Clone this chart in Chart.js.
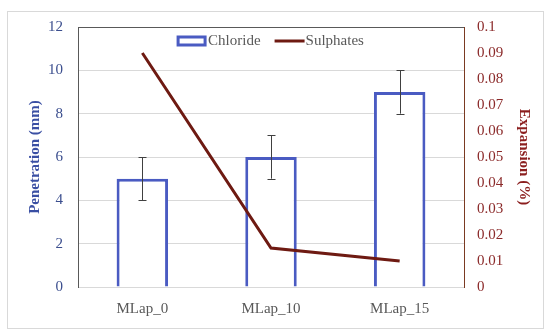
<!DOCTYPE html>
<html>
<head>
<meta charset="utf-8">
<script src="https://cdn.jsdelivr.net/npm/chart.js@4"></script>
<style>
  html, body { margin: 0; padding: 0; background: #fff; }
  body { width: 550px; height: 336px; position: relative; overflow: hidden; }
  #box { position: absolute; left: 7px; top: 11px; width: 535px; height: 316px; border: 1px solid #D9D9D9; }
  canvas { display: block; }
</style>
</head>
<body>
<div id="box"><canvas id="c" width="535" height="316"></canvas></div>
<script>
const categories = ['MLap_0', 'MLap_10', 'MLap_15'];
const chloride = [5, 6, 9];
const chlorideErr = [1, 1, 1];
const sulphates = [0.09, 0.015, 0.01];
const leftTicks = [0, 2, 4, 6, 8, 10, 12];
const rightTicks = [0, 0.01, 0.02, 0.03, 0.04, 0.05, 0.06, 0.07, 0.08, 0.09, 0.1];

const FONT = 'Liberation Serif';
const BLUE = '#4A5BC2';
const LINE = '#6E1A12';

const errorBars = {
  id: 'errorBars',
  afterDatasetsDraw(chart) {
    const meta = chart.getDatasetMeta(0);
    const ys = chart.scales.y;
    const ctx = chart.ctx;
    ctx.save();
    ctx.strokeStyle = '#404040';
    ctx.lineWidth = 1;
    meta.data.forEach((el, i) => {
      const x = Math.round(el.x) + 0.5;
      const lo = ys.getPixelForValue(chloride[i] - chlorideErr[i]);
      const hi = ys.getPixelForValue(chloride[i] + chlorideErr[i]);
      ctx.beginPath();
      ctx.moveTo(x, lo); ctx.lineTo(x, hi);
      ctx.moveTo(x - 4, Math.round(lo) + 0.5); ctx.lineTo(x + 4, Math.round(lo) + 0.5);
      ctx.moveTo(x - 4, Math.round(hi) + 0.5); ctx.lineTo(x + 4, Math.round(hi) + 0.5);
      ctx.stroke();
    });
    ctx.restore();
  }
};

const innerLegend = {
  id: 'innerLegend',
  afterDraw(chart) {
    const ctx = chart.ctx;
    const area = chart.chartArea;
    const ds = chart.data.datasets;
    ctx.save();
    ctx.font = '15px "' + FONT + '"';
    ctx.textBaseline = 'middle';
    const w0 = ctx.measureText(ds[0].label).width;
    const w1 = ctx.measureText(ds[1].label).width;
    const total = 27 + 3 + w0 + 14 + 30 + 1 + w1;
    let x = (area.left + area.right) / 2 - total / 2;
    const y = area.top + 14;
    ctx.fillStyle = '#FFFFFF';
    ctx.strokeStyle = ds[0].borderColor;
    ctx.lineWidth = 3;
    ctx.fillRect(x, y - 4, 27, 8);
    ctx.strokeRect(x, y - 4, 27, 8);
    x += 27 + 3;
    ctx.fillStyle = '#595959';
    ctx.fillText(ds[0].label, x, y);
    x += w0 + 14;
    ctx.strokeStyle = ds[1].borderColor;
    ctx.lineWidth = 3;
    ctx.beginPath();
    ctx.moveTo(x, y); ctx.lineTo(x + 30, y);
    ctx.stroke();
    x += 30 + 1;
    ctx.fillStyle = '#595959';
    ctx.fillText(ds[1].label, x, y);
    ctx.restore();
  }
};

function noVPad(s) { s.paddingTop = 0; s.paddingBottom = 0; }

new Chart(document.getElementById('c'), {
  data: {
    labels: categories,
    datasets: [
      {
        type: 'bar', label: 'Chloride', data: chloride, yAxisID: 'y',
        backgroundColor: '#FFFFFF', borderColor: BLUE, borderWidth: 3,
        barPercentage: 0.4, categoryPercentage: 1, order: 2
      },
      {
        type: 'line', label: 'Sulphates', data: sulphates, yAxisID: 'y1',
        borderColor: LINE, backgroundColor: LINE, borderWidth: 3,
        pointRadius: 0, tension: 0, order: 1
      }
    ]
  },
  options: {
    responsive: false,
    animation: false,
    layout: { padding: { top: 15, left: 0, right: 0, bottom: 0 } },
    plugins: {
      legend: { display: false },
      tooltip: { enabled: false }
    },
    scales: {
      x: {
        grid: { display: false, drawTicks: false },
        border: { display: true, color: '#D9D9D9' },
        ticks: { color: '#595959', font: { family: FONT, size: 15 }, padding: 13 },
        afterFit(s) { s.height = 41; }
      },
      y: {
        position: 'left', min: 0, max: 12,
        afterBuildTicks(s) { s.ticks = leftTicks.map(v => ({ value: v })); },
        grid: {
          drawTicks: false,
          color: c => (c.tick && c.tick.value === 12) ? '#595959' : '#D9D9D9'
        },
        border: { display: true, color: '#595959' },
        ticks: { color: '#3B4E8E', font: { family: FONT, size: 15 }, padding: 15 },
        title: {
          display: true, text: 'Penetration (mm)', color: '#3A4FA3',
          font: { family: FONT, size: 15, weight: 'bold' }, padding: { top: 18, bottom: 0 }
        },
        afterFit(s) { s.width = 70; noVPad(s); }
      },
      y1: {
        position: 'right', min: 0, max: 0.1,
        afterBuildTicks(s) { s.ticks = rightTicks.map(v => ({ value: v })); },
        grid: { display: false, drawTicks: false },
        border: { display: true, color: '#7A3A22' },
        ticks: { color: '#8B2A2A', font: { family: FONT, size: 15 }, padding: 13,
                 callback: v => String(v) },
        title: {
          display: true, text: 'Expansion (%)', color: '#8B1E1E',
          font: { family: FONT, size: 15, weight: 'bold' }, padding: { top: 10, bottom: 0 }
        },
        afterFit(s) { s.width = 79; noVPad(s); }
      }
    }
  },
  plugins: [errorBars, innerLegend]
});
</script>
</body>
</html>
